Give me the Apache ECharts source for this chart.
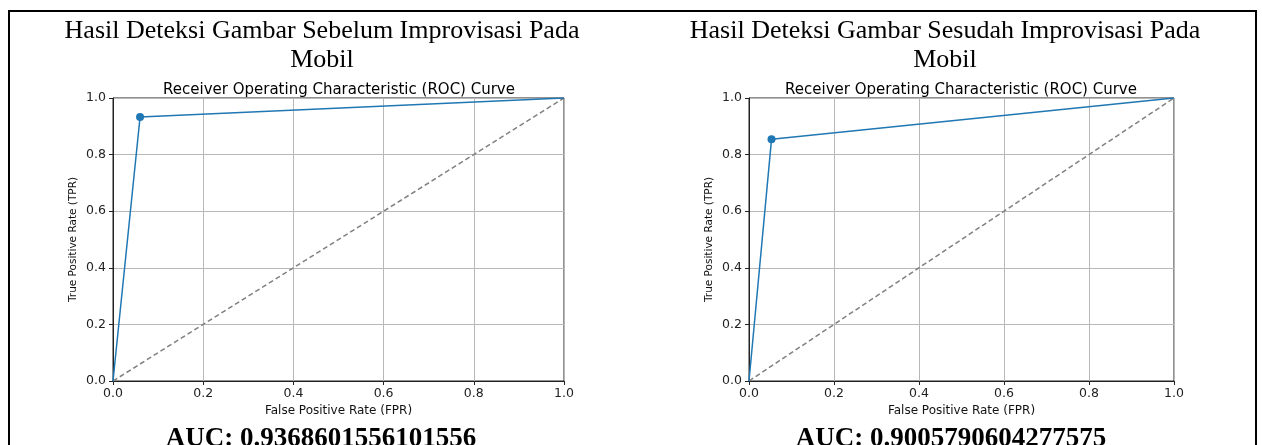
<!DOCTYPE html>
<html>
<head>
<meta charset="utf-8">
<script src="https://cdn.jsdelivr.net/npm/echarts@6/dist/echarts.min.js"></script>
<style>
  html, body { margin: 0; padding: 0; background: #fff; }
  #chart { width: 1262px; height: 445px; }
</style>
</head>
<body>
<div id="chart"></div>
<script>
document.addEventListener('DOMContentLoaded', function () {
  // panel headings
  var panelTitles = [
    'Hasil Deteksi Gambar Sebelum Improvisasi Pada\nMobil',
    'Hasil Deteksi Gambar Sesudah Improvisasi Pada\nMobil'
  ];
  var aucTexts = ['AUC: 0.9368601556101556', 'AUC: 0.9005790604277575'];
  var plotTitle = 'Receiver Operating Characteristic (ROC) Curve';

  // ROC points (FPR, TPR)
  var fprBefore = [0, 0.06, 1];
  var tprBefore = [0, 0.933, 1];
  var fprAfter = [0, 0.053, 1];
  var tprAfter = [0, 0.854, 1];
  var diagonal = [0, 1];

  var sans = 'DejaVu Sans';
  var serif = 'Liberation Serif';

  function rocData(fpr, tpr) {
    return fpr.map(function (x, i) {
      var item = { value: [x, tpr[i]] };
      // only the middle threshold shows a marker
      if (i === 0 || i === fpr.length - 1) item.symbol = 'none';
      return item;
    });
  }

  function xAxis(idx) {
    return {
      type: 'value', gridIndex: idx, min: 0, max: 1, interval: 0.2,
      name: 'False Positive Rate (FPR)', nameLocation: 'middle', nameGap: 24,
      nameTextStyle: { fontFamily: sans, fontSize: 12, color: '#111' },
      axisLine: { show: true, onZero: false, lineStyle: { color: '#222', width: 1 } },
      axisTick: { show: true, length: 4, lineStyle: { color: '#222' } },
      axisLabel: { fontFamily: sans, fontSize: 12.5, color: '#222', margin: 6,
        formatter: function (v) { return v.toFixed(1); } },
      splitLine: { show: true, lineStyle: { color: '#b8b8b8', width: 1 } }
    };
  }

  function yAxis(idx) {
    return {
      type: 'value', gridIndex: idx, min: 0, max: 1, interval: 0.2,
      name: 'True Positive Rate (TPR)', nameLocation: 'middle', nameGap: 34,
      nameTextStyle: { fontFamily: sans, fontSize: 10.5, color: '#111' },
      axisLine: { show: true, onZero: false, lineStyle: { color: '#222', width: 1 } },
      axisTick: { show: true, length: 4, lineStyle: { color: '#222' } },
      axisLabel: { fontFamily: sans, fontSize: 12.5, color: '#222', margin: 7,
        formatter: function (v) { return v.toFixed(1); } },
      splitLine: { show: true, lineStyle: { color: '#b8b8b8', width: 1 } }
    };
  }

  function rocSeries(idx, fpr, tpr) {
    return {
      type: 'line', xAxisIndex: idx, yAxisIndex: idx,
      data: rocData(fpr, tpr),
      symbol: 'circle', symbolSize: 8,
      lineStyle: { color: '#1f77b4', width: 1.5 },
      itemStyle: { color: '#1f77b4' },
      silent: true, animation: false
    };
  }

  function diagSeries(idx) {
    return {
      type: 'line', xAxisIndex: idx, yAxisIndex: idx,
      data: diagonal.map(function (v) { return [v, v]; }),
      symbol: 'none',
      lineStyle: { color: '#808080', width: 1.5, type: [5, 3] },
      silent: true, animation: false
    };
  }

  function textTitle(text, x, y, font, size, weight, lh) {
    return {
      text: text, left: x, top: y, textAlign: 'center', padding: 0,
      textStyle: { fontFamily: font, fontSize: size, fontWeight: weight, color: '#000', lineHeight: lh }
    };
  }

  var chart = echarts.init(document.getElementById('chart'));
  var option = {
    backgroundColor: '#fff',
    animation: false,
    title: [
      textTitle(panelTitles[0], 322, 17, serif, 26, 'normal', 29),
      textTitle(panelTitles[1], 945, 17, serif, 26, 'normal', 29),
      textTitle(plotTitle, 339, 81, sans, 15, 'normal', 18),
      textTitle(plotTitle, 961, 81, sans, 15, 'normal', 18),
      textTitle(aucTexts[0], 321, 424, serif, 27, 'bold', 30),
      textTitle(aucTexts[1], 951, 424, serif, 27, 'bold', 30)
    ],
    grid: [
      { left: 113, top: 98, width: 451, height: 283, show: true, borderColor: '#222', borderWidth: 1, backgroundColor: 'transparent' },
      { left: 749, top: 98, width: 425, height: 283, show: true, borderColor: '#222', borderWidth: 1, backgroundColor: 'transparent' }
    ],
    xAxis: [xAxis(0), xAxis(1)],
    yAxis: [yAxis(0), yAxis(1)],
    series: [
      diagSeries(0), rocSeries(0, fprBefore, tprBefore),
      diagSeries(1), rocSeries(1, fprAfter, tprAfter)
    ],
    graphic: [
      { type: 'polyline', silent: true,
        shape: { points: [[9, 445], [9, 11], [1256, 11], [1256, 445]] },
        style: { stroke: '#000', lineWidth: 2, fill: null } }
    ]
  };
  chart.setOption(option);
});
</script>
</body>
</html>
